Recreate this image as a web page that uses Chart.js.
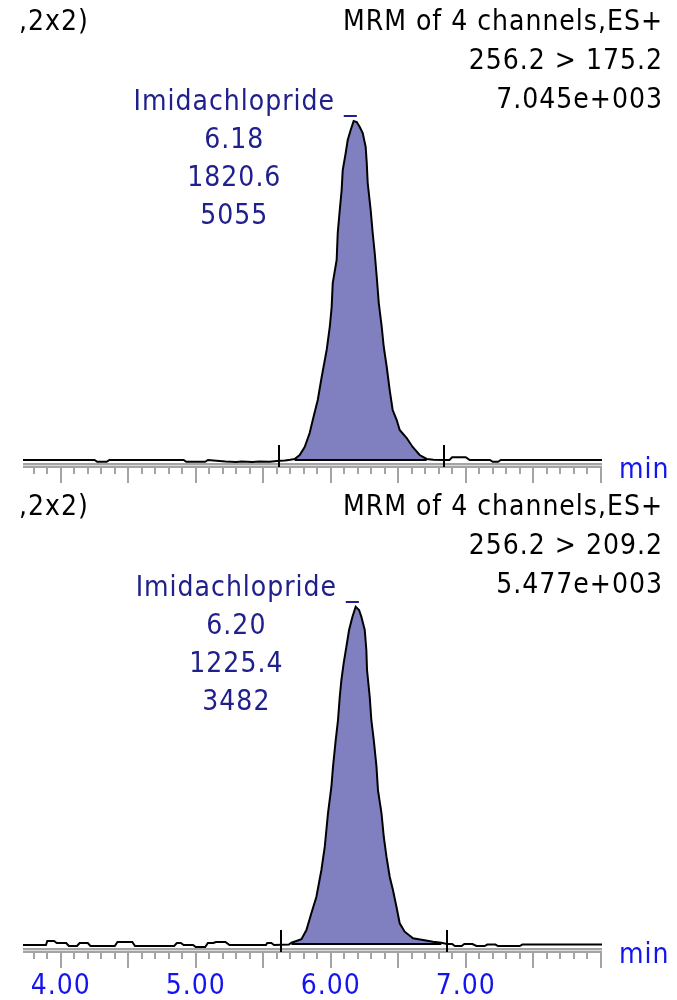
<!DOCTYPE html>
<html>
<head>
<meta charset="utf-8">
<script src="https://cdn.jsdelivr.net/npm/chart.js@4.4.1/dist/chart.umd.min.js"></script>
<style>
html, body { margin: 0; padding: 0; background: #fff; }
#wrap { position: relative; width: 677px; height: 1000px; overflow: hidden; }
canvas { position: absolute; left: 0; }
#topChart { top: 0; }
#bottomChart { top: 490px; }
</style>
</head>
<body>
<div id="wrap">
  <canvas id="topChart" width="677" height="490"></canvas>
  <canvas id="bottomChart" width="677" height="510"></canvas>
</div>
<script>
// time axis (min)
const xMin = 3.72;
const xMax = 8.01;
const tickValues = [4, 5, 6, 7];
const tickLabels = ['4.00', '5.00', '6.00', '7.00'];

// channel 256.2 > 175.2
const topHeader = ['MRM of 4 channels,ES+', '256.2 > 175.2', '7.045e+003'];
const topFullScale = 7045;
const topPeakInfo = ['6.18', '1820.6', '5055'];
const topMarks = [5.62, 6.84];
const topBase = 41;
const topLeftT = [3.72, 4.25, 4.27, 4.34, 4.36, 4.91, 4.93, 5.07, 5.09, 5.22, 5.30, 5.34, 5.42, 5.47, 5.55, 5.60, 5.66, 5.70];
const topLeftI = [41, 41, 5, 5, 41, 41, 5, 5, 41, 10, 0, 12, 0, 12, 5, 20, 30, 45];
const topPeakT = [5.733, 5.770, 5.807, 5.844, 5.867, 5.904, 5.933, 5.970, 5.993, 6.007,
  6.015, 6.044, 6.052, 6.067, 6.081, 6.089, 6.111, 6.126, 6.148, 6.170,
  6.193, 6.215, 6.237, 6.259, 6.267, 6.274, 6.296, 6.311, 6.326, 6.341,
  6.356, 6.378, 6.393, 6.415, 6.437, 6.459, 6.489, 6.511, 6.563, 6.607, 6.659, 6.711];
const topPeakI = [62, 144, 309, 597, 865, 1277, 1751, 2307, 2781, 3193,
  3687, 4161, 4717, 5191, 5603, 6015, 6365, 6633, 6839, 7025,
  7004, 6901, 6777, 6489, 6159, 5747, 5191, 4717, 4305, 3811,
  3275, 2781, 2369, 1957, 1483, 1071, 865, 659, 494, 309, 144, 62];
const topRightT = [6.76, 6.84, 6.88, 6.90, 7.00, 7.03, 7.18, 7.20, 7.24, 7.26, 8.01];
const topRightI = [45, 41, 41, 100, 100, 41, 41, 5, 5, 41, 41];

// channel 256.2 > 209.2
const botHeader = ['MRM of 4 channels,ES+', '256.2 > 209.2', '5.477e+003'];
const botFullScale = 5477;
const botPeakInfo = ['6.20', '1225.4', '3482'];
const botMarks = [5.63, 6.86];
const botBase = 48;
const botLeftT = [3.72, 3.89, 3.90, 3.95, 3.97, 4.04, 4.06, 4.12, 4.14, 4.20, 4.22, 4.40, 4.42, 4.53, 4.55, 4.84,
  4.86, 4.89, 4.91, 4.98, 5.00, 5.07, 5.09, 5.13, 5.15, 5.22, 5.25, 5.52, 5.53, 5.56, 5.58, 5.69];
const botLeftI = [32, 32, 96, 96, 64, 64, 16, 16, 64, 64, 16, 16, 80, 80, 16, 16,
  64, 64, 32, 32, 0, 0, 64, 64, 80, 80, 32, 32, 64, 64, 32, 40];
const botPeakT = [5.709, 5.783, 5.820, 5.857, 5.894, 5.931, 5.956, 5.980, 6.005, 6.017,
  6.037, 6.054, 6.067, 6.079, 6.096, 6.116, 6.136, 6.161, 6.185, 6.210,
  6.227, 6.252, 6.264, 6.269, 6.289, 6.301, 6.319, 6.339, 6.350, 6.376,
  6.393, 6.413, 6.437, 6.461, 6.487, 6.511, 6.548, 6.610, 6.684, 6.758, 6.820];
const botPeakI = [69, 124, 273, 546, 808, 1237, 1611, 2152, 2574, 2896,
  3324, 3646, 4020, 4288, 4561, 4823, 5091, 5305, 5465, 5412,
  5305, 5091, 4770, 4449, 4020, 3646, 3324, 2896, 2521, 2152,
  1771, 1450, 1129, 915, 647, 381, 246, 140, 112, 85, 69];
const botRightT = [6.86, 6.90, 6.92, 6.97, 6.99, 7.05, 7.08, 7.14, 7.16, 7.22, 7.24, 7.40, 7.42, 8.01];
const botRightI = [48, 48, 16, 16, 48, 48, 16, 16, 40, 40, 16, 16, 40, 40];

const compoundName = 'Imidachlopride';
const cornerText = ',2x2)';

const FONT = '28px "DejaVu Sans Condensed", "DejaVu Sans", sans-serif';
const NAVY = '#20208c';
const BLUE = '#1414f0';
const AXIS_GRAY = '#a4a4a4';

function toPoints(ts, is) {
  return ts.map((t, k) => ({ x: t, y: is[k] }));
}

// axis, ticks, integration marks and all the labels
function panelPlugin(p) {
  return {
    id: 'msPanel',
    beforeDatasetsDraw(chart) {
      const ctx = chart.ctx, xs = chart.scales.x, ys = chart.scales.y;
      const y0 = Math.round(ys.getPixelForValue(0));
      const left = xs.getPixelForValue(xMin), right = xs.getPixelForValue(xMax);
      ctx.save();
      ctx.fillStyle = AXIS_GRAY;
      ctx.fillRect(left, y0 + 1, right - left, 5);
      ctx.fillStyle = '#dadada';
      ctx.fillRect(left, y0 + 3, right - left, 1);
      ctx.strokeStyle = AXIS_GRAY;
      ctx.lineWidth = 2;
      for (let k = 38; k <= 80; k++) {
        const px = Math.round(xs.getPixelForValue(k / 10));
        const len = k % 5 === 0 ? 21 : 12;
        ctx.beginPath();
        ctx.moveTo(px, y0 + 5);
        ctx.lineTo(px, y0 + len);
        ctx.stroke();
      }
      ctx.restore();
    },
    afterDatasetsDraw(chart) {
      const ctx = chart.ctx, xs = chart.scales.x, ys = chart.scales.y;
      const y0 = Math.round(ys.getPixelForValue(0));
      ctx.save();
      // peak start / end marks
      ctx.strokeStyle = '#000';
      ctx.lineWidth = 2;
      p.marks.forEach(m => {
        const px = Math.round(xs.getPixelForValue(m));
        ctx.beginPath();
        ctx.moveTo(px, y0 - 17);
        ctx.lineTo(px, y0 + 5);
        ctx.stroke();
      });

      ctx.font = FONT;
      ctx.letterSpacing = '1px';
      ctx.textBaseline = 'alphabetic';
      ctx.fillStyle = '#000';
      ctx.textAlign = 'left';
      ctx.fillText(cornerText, 19, p.headY);
      ctx.textAlign = 'right';
      p.header.forEach((s, i) => ctx.fillText(s, 663, p.headY + i * 39));

      // peak annotation anchored on the apex
      let k = 0;
      p.peakI.forEach((v, i) => { if (v > p.peakI[k]) k = i; });
      const ax = xs.getPixelForValue(p.peakT[k]);
      const ay = ys.getPixelForValue(p.peakI[k]);
      const rx = ax + 4, by = ay - 11;
      ctx.fillStyle = NAVY;
      ctx.fillText(compoundName + ' _', rx, by);
      const full = ctx.measureText(compoundName + ' _').width;
      const nw = ctx.measureText(compoundName).width;
      const cx = rx - full + nw / 2;
      ctx.textAlign = 'center';
      p.info.forEach((s, i) => ctx.fillText(s, cx, by + 38 * (i + 1)));

      ctx.fillStyle = BLUE;
      ctx.textAlign = 'left';
      ctx.fillText('min', 619, y0 + 16);
      if (p.showTicks) {
        ctx.textAlign = 'center';
        tickValues.forEach((v, i) => ctx.fillText(tickLabels[i], xs.getPixelForValue(v), y0 + 47));
      }
      ctx.restore();
    }
  };
}

function makePanel(id, p) {
  const traceT = [...p.leftT, ...p.peakT, ...p.rightT];
  const traceI = [...p.leftI, ...p.peakI, ...p.rightI];
  return new Chart(document.getElementById(id), {
    type: 'line',
    data: {
      datasets: [
        {
          data: toPoints(traceT, traceI),
          borderColor: '#000', borderWidth: 2, pointRadius: 0, tension: 0,
          fill: false, order: 0, clip: false
        },
        {
          data: [{ x: p.peakT[0], y: p.base }, { x: p.peakT[p.peakT.length - 1], y: p.base }],
          borderColor: '#000', borderWidth: 2, pointRadius: 0, fill: false, order: 0
        },
        {
          data: toPoints(p.peakT, p.peakI),
          borderColor: 'rgba(0,0,0,0)', borderWidth: 0, pointRadius: 0,
          backgroundColor: '#8080c0', fill: { value: p.base }, order: 1
        }
      ]
    },
    options: {
      responsive: false,
      animation: false,
      events: [],
      layout: { padding: p.pad },
      plugins: { legend: { display: false }, tooltip: { enabled: false } },
      scales: {
        x: { type: 'linear', min: xMin, max: xMax, display: false },
        y: { min: 0, max: p.fullScale, display: false }
      }
    },
    plugins: [panelPlugin(p)]
  });
}

makePanel('topChart', {
  header: topHeader, fullScale: topFullScale, info: topPeakInfo, marks: topMarks, base: topBase,
  leftT: topLeftT, leftI: topLeftI, peakT: topPeakT, peakI: topPeakI, rightT: topRightT, rightI: topRightI,
  headY: 30, showTicks: false,
  pad: { top: 120, bottom: 28, left: 23, right: 75 }
});

makePanel('bottomChart', {
  header: botHeader, fullScale: botFullScale, info: botPeakInfo, marks: botMarks, base: botBase,
  leftT: botLeftT, leftI: botLeftI, peakT: botPeakT, peakI: botPeakI, rightT: botRightT, rightI: botRightI,
  headY: 25, showTicks: true,
  pad: { top: 116, bottom: 53, left: 23, right: 75 }
});
</script>
</body>
</html>
